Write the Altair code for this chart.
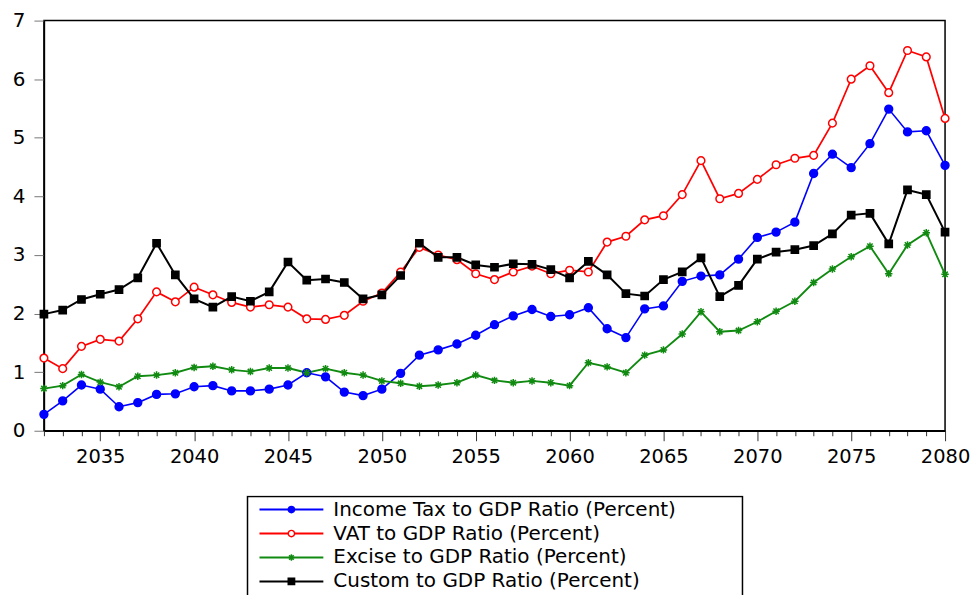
import altair as alt
import pandas as pd

years = list(range(2032, 2081))

income = [0.28, 0.51, 0.78, 0.71, 0.41, 0.48, 0.62, 0.63, 0.75, 0.77,
          0.68, 0.68, 0.71, 0.78, 0.99, 0.92, 0.66, 0.60, 0.71, 0.98,
          1.29, 1.38, 1.48, 1.63, 1.81, 1.96, 2.07, 1.95, 1.98, 2.10,
          1.74, 1.59, 2.08, 2.13, 2.55, 2.64, 2.66, 2.93, 3.30, 3.39,
          3.56, 4.39, 4.72, 4.49, 4.90, 5.49, 5.10, 5.12, 4.53]
vat = [1.24, 1.06, 1.44, 1.56, 1.53, 1.91, 2.37, 2.20, 2.45, 2.32,
       2.19, 2.11, 2.15, 2.11, 1.91, 1.90, 1.97, 2.21, 2.35, 2.71,
       3.13, 3.00, 2.92, 2.68, 2.58, 2.71, 2.81, 2.68, 2.74, 2.71,
       3.22, 3.32, 3.60, 3.67, 4.03, 4.61, 3.96, 4.05, 4.29, 4.54,
       4.65, 4.70, 5.25, 6.00, 6.23, 5.77, 6.49, 6.38, 5.33]
excise = [0.72, 0.77, 0.96, 0.83, 0.75, 0.93, 0.95, 0.99, 1.08, 1.10,
          1.04, 1.01, 1.07, 1.07, 0.99, 1.06, 0.99, 0.95, 0.85, 0.81,
          0.76, 0.78, 0.82, 0.95, 0.86, 0.82, 0.85, 0.82, 0.77, 1.16,
          1.09, 0.99, 1.29, 1.38, 1.65, 2.03, 1.69, 1.71, 1.86, 2.04,
          2.21, 2.53, 2.76, 2.97, 3.15, 2.68, 3.17, 3.38, 2.67]
custom = [1.99, 2.06, 2.24, 2.33, 2.41, 2.61, 3.20, 2.66, 2.25, 2.11,
          2.29, 2.21, 2.37, 2.88, 2.57, 2.59, 2.53, 2.25, 2.32, 2.65,
          3.20, 2.96, 2.96, 2.83, 2.79, 2.85, 2.84, 2.75, 2.61, 2.89,
          2.66, 2.34, 2.30, 2.58, 2.71, 2.95, 2.29, 2.48, 2.93, 3.05,
          3.09, 3.16, 3.36, 3.68, 3.71, 3.19, 4.11, 4.03, 3.39]

series_names = ["Income Tax to GDP Ratio (Percent)",
                "VAT to GDP Ratio (Percent)",
                "Excise to GDP Ratio (Percent)",
                "Custom to GDP Ratio (Percent)"]
y_ticks = [0, 1, 2, 3, 4, 5, 6, 7]

colors = ["#0000ff", "#ff0000", "#108a10", "#000000"]
fills = ["#0000ff", "#ffffff", "transparent", "#000000"]
asterisk = "M-1,0L1,0M0,-1L0,1M-0.72,-0.72L0.72,0.72M-0.72,0.72L0.72,-0.72"
shapes = ["circle", "circle", asterisk, "square"]
sizes = [62, 52, 90, 105]
leg_sizes = [40, 40, 60, 60]
widths = [1.6, 2.0, 2.0, 2.2]

rows = []
for name, vals in zip(series_names, [income, vat, excise, custom]):
    for yr, v in zip(years, vals):
        rows.append({"year": yr, "value": v, "series": name})
df = pd.DataFrame(rows)

FONT = "DejaVu Sans"

col_scale = alt.Scale(domain=series_names, range=colors)
fill_scale = alt.Scale(domain=series_names, range=fills)
shape_scale = alt.Scale(domain=series_names, range=shapes)

x_enc = alt.X("year:Q",
              scale=alt.Scale(domain=[2032, 2080], nice=False, zero=False),
              axis=alt.Axis(values=years, format="d",
                            labelExpr="datum.value % 5 === 0 ? datum.label : ''",
                            tickSize={"condition": {"test": "datum.value % 5 === 0", "value": 10}, "value": 5},
                            tickColor="#333333", domainColor="black", domainWidth=1.5,
                            labelOverlap=False, labelFlush=False, grid=False, title=None,
                            labelFontSize=19.5, labelPadding=7, labelColor="black", labelFont=FONT))
y_enc = alt.Y("value:Q",
              scale=alt.Scale(domain=[0, 7], nice=False, zero=True),
              axis=alt.Axis(values=y_ticks, tickSize=10, tickColor="#777777",
                            domainColor="black", domainWidth=1.5,
                            labelPadding=9, grid=False, title=None, labelFlush=False,
                            labelFontSize=20, labelColor="black", labelFont=FONT))

base = alt.Chart(df)
lines = base.mark_line().encode(
    x=x_enc, y=y_enc,
    color=alt.Color("series:N", scale=col_scale, legend=None),
    strokeWidth=alt.StrokeWidth("series:N", scale=alt.Scale(domain=series_names, range=widths), legend=None),
)
points = base.mark_point(opacity=1, strokeWidth=1.5).encode(
    x=x_enc, y=y_enc,
    shape=alt.Shape("series:N", scale=shape_scale, legend=None),
    fill=alt.Fill("series:N", scale=fill_scale, legend=None),
    stroke=alt.Stroke("series:N", scale=col_scale, legend=None),
    size=alt.Size("series:N", scale=alt.Scale(domain=series_names, range=sizes), legend=None),
)
top = alt.layer(lines, points).properties(
    width=903, height=411,
    view=alt.ViewBackground(stroke="black", strokeWidth=1.5),
)

# legend panel (its origin is aligned with the plot's left edge)
leg_df = pd.DataFrame({"series": series_names})
leg_base = alt.Chart(leg_df)
leg_y = alt.Y("series:N", scale=alt.Scale(type="point", domain=series_names, range=[14, 86], padding=0), axis=None)
leg_rule = leg_base.mark_rule(strokeWidth=2).encode(
    x=alt.value(216), x2=alt.value(280), y=leg_y,
    color=alt.Color("series:N", scale=col_scale, legend=None),
)
leg_pts = leg_base.mark_point(opacity=1, strokeWidth=1.5).encode(
    x=alt.value(248), y=leg_y,
    shape=alt.Shape("series:N", scale=shape_scale, legend=None),
    fill=alt.Fill("series:N", scale=fill_scale, legend=None),
    stroke=alt.Stroke("series:N", scale=col_scale, legend=None),
    size=alt.Size("series:N", scale=alt.Scale(domain=series_names, range=leg_sizes), legend=None),
)
leg_text = leg_base.mark_text(align="left", baseline="middle", fontSize=20, font=FONT, color="black").encode(
    x=alt.value(290), y=leg_y, text="series:N",
)
leg_box = alt.Chart(alt.Data(values=[{"k": 1}])).mark_rect(
    fill="transparent", stroke="black", strokeWidth=1.5, clip=True
).encode(x=alt.value(204), x2=alt.value(700), y=alt.value(1), y2=alt.value(200))

legend = alt.layer(leg_box, leg_rule, leg_pts, leg_text).properties(
    width=880, height=110,
    view=alt.ViewBackground(stroke="transparent"),
)

chart = alt.vconcat(top, legend, spacing=27).properties(
    padding={"left": 3, "top": 1, "right": 0, "bottom": 0},
).resolve_scale(color="shared", fill="shared", shape="independent", size="independent",
                stroke="shared", y="independent")

chart.save("out.html", embed_options={"renderer": "svg", "actions": False})
